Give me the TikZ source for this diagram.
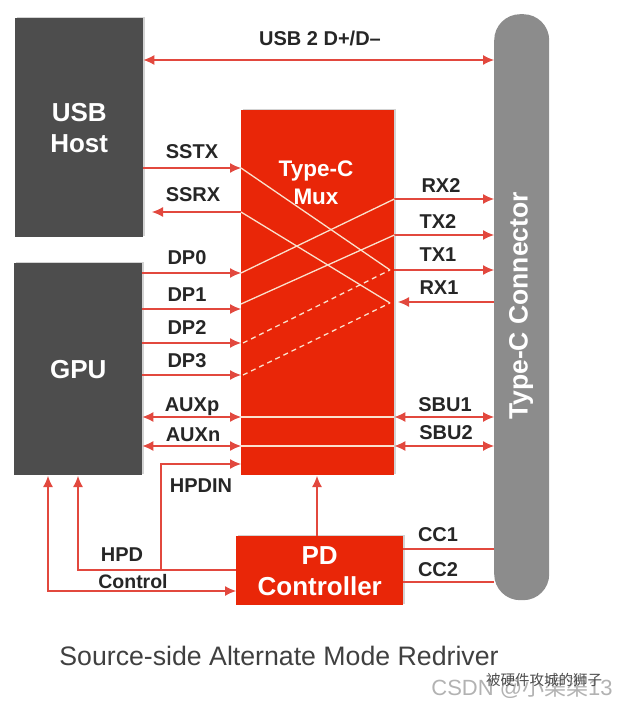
\documentclass[tikz,border=0pt]{standalone}
\usepackage{fontspec}
\setmainfont{Liberation Sans}
\newfontfamily\cjk{Noto Sans CJK SC}
\usetikzlibrary{shadows}
\usetikzlibrary{arrows.meta}
\definecolor{boxgray}{RGB}{77,77,77}
\definecolor{muxred}{RGB}{233,38,8}
\definecolor{wirered}{RGB}{226,72,62}
\definecolor{portgray}{RGB}{140,140,140}
\definecolor{crosswhite}{RGB}{250,225,205}
\tikzset{
  block/.style={anchor=north west, inner sep=0pt, align=center, text=white, font=\bfseries\fontsize{26}{31}\selectfont,
    drop shadow={shadow xshift=1.5pt, shadow yshift=1.5pt, opacity=0.35}},
  wire/.style={draw=wirered, line width=1.1pt},
  onearrow/.style={wire, -{Latex[length=11pt,width=10pt]}},
  twoarrow/.style={wire, {Latex[length=11pt,width=10pt]}-{Latex[length=11pt,width=10pt]}},
  cross/.style={draw=crosswhite, line width=1.3pt},
  crossdash/.style={cross, dash pattern=on 5pt off 4pt},
  siglabel/.style={inner sep=0pt, text=black!85, font=\bfseries\fontsize{20}{23}\selectfont},
}
\begin{document}
\begin{tikzpicture}[x=1pt, y=-1pt]
\useasboundingbox (0,0) rectangle (623,708);
% blocks
\node [block, fill=boxgray, minimum width=128pt, minimum height=219pt] (usb) at (15,18) {USB\\[0pt]Host};
\node [block, fill=boxgray, minimum width=128pt, minimum height=212pt] (gpu) at (14,263) {GPU};
\node [block, fill=muxred, minimum width=153pt, minimum height=365pt] (mux) at (241,110) {};
\node [block, fill=muxred, minimum width=167pt, minimum height=69pt] (pd) at (236,536) {PD\\Controller};
\node [anchor=north west, inner sep=0pt, fill=portgray, rounded corners=26pt, minimum width=55pt, minimum height=586pt] (conn) at (494,14) {};
\node [rotate=90, inner sep=0pt, text=white, font=\bfseries\fontsize{26.5}{30}\selectfont] (conntext) at (521,306) {Type-C Connector};
\node [inner sep=0pt, align=center, text=white, font=\bfseries\fontsize{22.5}{28}\selectfont] (muxtext) at (316,183) {Type-C\\Mux};
% left pins
\foreach \nm/\yy in {sstx/168, ssrx/212} {
  \coordinate (\nm a) at (usb.east |- 0,\yy);
  \coordinate (\nm b) at (mux.west |- 0,\yy);
}
\foreach \nm/\yy in {dpz/273, dpa/309, dpb/343, dpc/375, auxp/417, auxn/446} {
  \coordinate (\nm a) at (gpu.east |- 0,\yy);
  \coordinate (\nm b) at (mux.west |- 0,\yy);
}
% right pins
\foreach \nm/\yy in {rxb/199, txb/235, txa/270, rxa/302, sbua/417, sbub/446} {
  \coordinate (\nm a) at (mux.east |- 0,\yy);
  \coordinate (\nm b) at (conn.west |- 0,\yy);
}
\coordinate (ssrxend) at (152,212);
\coordinate (usbline) at (usb.east |- 0,60);
\coordinate (connline) at (conn.west |- 0,60);
\coordinate (rxaend) at (390,303);
\coordinate (rxatip) at (398,302);
\coordinate (txaend) at (390,270);
\coordinate (dpastart) at (241,304);
\coordinate (hpdturn) at (78,570);
\coordinate (ctrlturn) at (48,591);
\coordinate (hpdup) at (78,476);
\coordinate (ctrlup) at (48,476);
\coordinate (hpdsplit) at (161,570);
\coordinate (hpdcorner) at (161,464);
\coordinate (hpdin) at (mux.west |- 0,464);
\coordinate (hpdpd) at (pd.west |- 0,570);
\coordinate (ctrlpd) at (pd.west |- 0,591);
\coordinate (pdup) at (317,536);
\coordinate (muxdown) at (317,476);
\coordinate (cca) at (pd.east |- 0,549);
\coordinate (ccb) at (pd.east |- 0,582);
\coordinate (ccaend) at (conn.west |- 0,549);
\coordinate (ccbend) at (conn.west |- 0,582);
% wires
\draw [twoarrow] (usbline) -- (connline);
\draw [onearrow] (sstxa) -- (sstxb);
\draw [onearrow] (ssrxb) -- (ssrxend);
\foreach \nm in {dpz, dpa, dpb, dpc} \draw [onearrow] (\nm a) -- (\nm b);
\foreach \nm in {rxb, txb, txa} \draw [onearrow] (\nm a) -- (\nm b);
\draw [onearrow] (rxab) -- (rxatip);
\draw [twoarrow] (auxpa) -- (auxpb);
\draw [twoarrow] (auxna) -- (auxnb);
\draw [twoarrow] (sbuaa) -- (sbuab);
\draw [twoarrow] (sbuba) -- (sbubb);
\draw [onearrow] (hpdpd) -- (hpdturn) -- (hpdup);
\draw [onearrow] (hpdsplit) -- (hpdcorner) -- (hpdin);
\draw [twoarrow] (ctrlup) -- (ctrlturn) -- (ctrlpd);
\draw [onearrow] (pdup) -- (muxdown);
\draw [wire] (cca) -- (ccaend);
\draw [wire] (ccb) -- (ccbend);
% crossings in the mux
\draw [cross] (sstxb) -- (txaend);
\draw [cross] (ssrxb) -- (rxaend);
\draw [cross] (241,273) -- (rxba);
\draw [cross] (dpastart) -- (txba);
\draw [crossdash] (243,343) -- (txaend);
\draw [crossdash] (243,375) -- (rxaend);
\draw [cross] (auxpb) -- (sbuaa);
\draw [cross] (auxnb) -- (sbuba);
% labels
\node [siglabel] (usblabel) at (320,38) {USB 2 D+/D--};
\node [siglabel] (sstxlabel) at (192,152) {SSTX};
\node [siglabel] (ssrxlabel) at (193,195) {SSRX};
\node [siglabel] (dpzlabel) at (187,258) {DP0};
\node [siglabel] (dpalabel) at (187,295) {DP1};
\node [siglabel] (dpblabel) at (187,328) {DP2};
\node [siglabel] (dpclabel) at (187,361) {DP3};
\node [siglabel] (rxblabel) at (441,186) {RX2};
\node [siglabel] (txblabel) at (438,222) {TX2};
\node [siglabel] (txalabel) at (438,255) {TX1};
\node [siglabel] (rxalabel) at (439,288) {RX1};
\node [siglabel] (auxplabel) at (192,407) {AUXp};
\node [siglabel] (auxnlabel) at (193,435) {AUXn};
\node [siglabel] (sbualabel) at (445,405) {SBU1};
\node [siglabel] (sbublabel) at (446,433) {SBU2};
\node [siglabel] (hpdinlabel) at (201,486) {HPDIN};
\node [siglabel] (hpdlabel) at (122,555) {HPD};
\node [siglabel, font=\bfseries\fontsize{19.5}{22}\selectfont] (ctrllabel) at (133,582) {Control};
\node [siglabel] (ccalabel) at (438,535) {CC1};
\node [siglabel] (ccblabel) at (438,570) {CC2};
\node [inner sep=0pt, text=black!75, font=\fontsize{26.7}{30}\selectfont] (caption) at (279,656) {Source-side Alternate Mode Redriver};
% watermark
\node [inner sep=0pt, text=black!30, font=\fontsize{22}{26}\selectfont] (csdn) at (522,688) {CSDN @{\cjk 小渠渠}13};
\node [inner sep=0pt, text=black!70, font=\cjk\fontsize{14.5}{18}\selectfont] (wechat) at (544,680) {被硬件攻城的狮子};
\end{tikzpicture}
\end{document}
